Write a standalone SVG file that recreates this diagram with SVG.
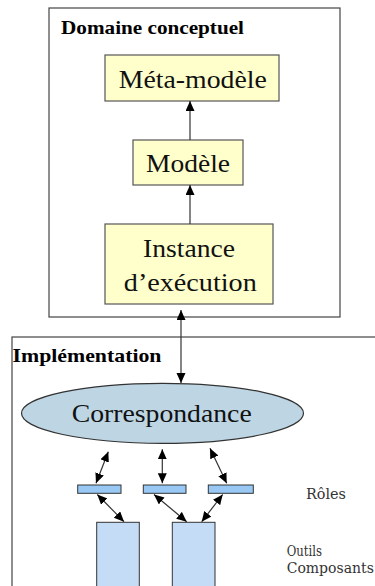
<svg xmlns="http://www.w3.org/2000/svg" width="375" height="586" viewBox="0 0 375 586">
<style>
.frame{fill:#ffffff;stroke:#444444;stroke-width:1.2}
.box{fill:#ffffcc;stroke:#555555;stroke-width:1.2}
.ell{fill:#bed6e4;stroke:#333333;stroke-width:1.2}
.bar{fill:#99c8f4;stroke:#333333;stroke-width:1}
.comp{fill:#c4dcf6;stroke:#333333;stroke-width:1}
.title{font-family:"Liberation Serif","Times New Roman",serif;font-weight:bold;font-size:19px;fill:#000}
.lbl{font-family:"Liberation Serif","Times New Roman",serif;font-size:25px;fill:#111}
.side{font-family:"DejaVu Serif",serif;font-size:14px;fill:#333}
.conn line{stroke:#333333;stroke-width:1.2}
</style>
<defs>
<marker id="ah" markerUnits="userSpaceOnUse" markerWidth="11" markerHeight="10" refX="10" refY="4.5" orient="auto-start-reverse">
<path d="M0,0 L10,4.5 L0,9 z" fill="#000"/>
</marker>
</defs>
<g id="domaine">
<rect class="frame" x="49" y="8" width="291" height="309"/>
<text class="title" x="61" y="34" textLength="183" lengthAdjust="spacingAndGlyphs">Domaine conceptuel</text>
</g>
<g id="implementation">
<rect class="frame" x="12" y="337" width="380" height="270"/>
<text class="title" x="12.5" y="362" font-size="20" textLength="149" lengthAdjust="spacingAndGlyphs">Implémentation</text>
</g>
<g id="meta-modele">
<rect class="box" x="105" y="55" width="174" height="46"/>
<text class="lbl" x="192.8" y="87.5" text-anchor="middle" textLength="148" lengthAdjust="spacingAndGlyphs">Méta-modèle</text>
</g>
<g id="modele">
<rect class="box" x="133" y="140" width="110" height="45"/>
<text class="lbl" x="188" y="172" text-anchor="middle" textLength="84" lengthAdjust="spacingAndGlyphs">Modèle</text>
</g>
<g id="instance">
<rect class="box" x="105" y="224" width="168" height="80"/>
<text class="lbl" x="189" y="257" text-anchor="middle" textLength="92" lengthAdjust="spacingAndGlyphs">Instance</text>
<text class="lbl" x="190.3" y="290.5" text-anchor="middle" textLength="133" lengthAdjust="spacingAndGlyphs">d’exécution</text>
</g>
<g id="correspondance">
<ellipse class="ell" cx="162.5" cy="413.3" rx="141" ry="30"/>
<text class="lbl" x="161.7" y="421.7" text-anchor="middle" textLength="180" lengthAdjust="spacingAndGlyphs">Correspondance</text>
</g>
<g id="role1"><rect class="bar" x="77.7" y="485" width="43.3" height="8.3"/></g>
<g id="role2"><rect class="bar" x="143.3" y="485" width="42.7" height="8.3"/></g>
<g id="role3"><rect class="bar" x="208.3" y="485" width="45" height="8.3"/></g>
<g id="comp1"><rect class="comp" x="96.7" y="522.3" width="42.6" height="70"/></g>
<g id="comp2"><rect class="comp" x="172.3" y="522.3" width="42.7" height="70"/></g>
<g id="labels">
<text class="side" x="306" y="499" textLength="40" lengthAdjust="spacingAndGlyphs">Rôles</text>
<text class="side" x="286.7" y="555.5" textLength="35.3" lengthAdjust="spacingAndGlyphs">Outils</text>
<text class="side" x="286.7" y="573" font-size="12.5">Composants</text>
</g>
<g id="connectors" class="conn">
<line x1="190" y1="140" x2="190" y2="101" marker-end="url(#ah)"/>
<line x1="190" y1="224" x2="190" y2="185" marker-end="url(#ah)"/>
<line x1="181" y1="310" x2="181" y2="383" marker-start="url(#ah)" marker-end="url(#ah)"/>
<line x1="108.3" y1="451.7" x2="96" y2="483.3" marker-start="url(#ah)" marker-end="url(#ah)"/>
<line x1="162.3" y1="449.3" x2="162.3" y2="483.3" marker-start="url(#ah)" marker-end="url(#ah)"/>
<line x1="210" y1="448.3" x2="226.7" y2="483.3" marker-start="url(#ah)" marker-end="url(#ah)"/>
<line x1="97.3" y1="494.5" x2="124" y2="521.7" marker-start="url(#ah)" marker-end="url(#ah)"/>
<line x1="154" y1="494.5" x2="186.7" y2="521.7" marker-start="url(#ah)" marker-end="url(#ah)"/>
<line x1="222.7" y1="494.5" x2="201.7" y2="521.7" marker-start="url(#ah)" marker-end="url(#ah)"/>
</g>
</svg>
